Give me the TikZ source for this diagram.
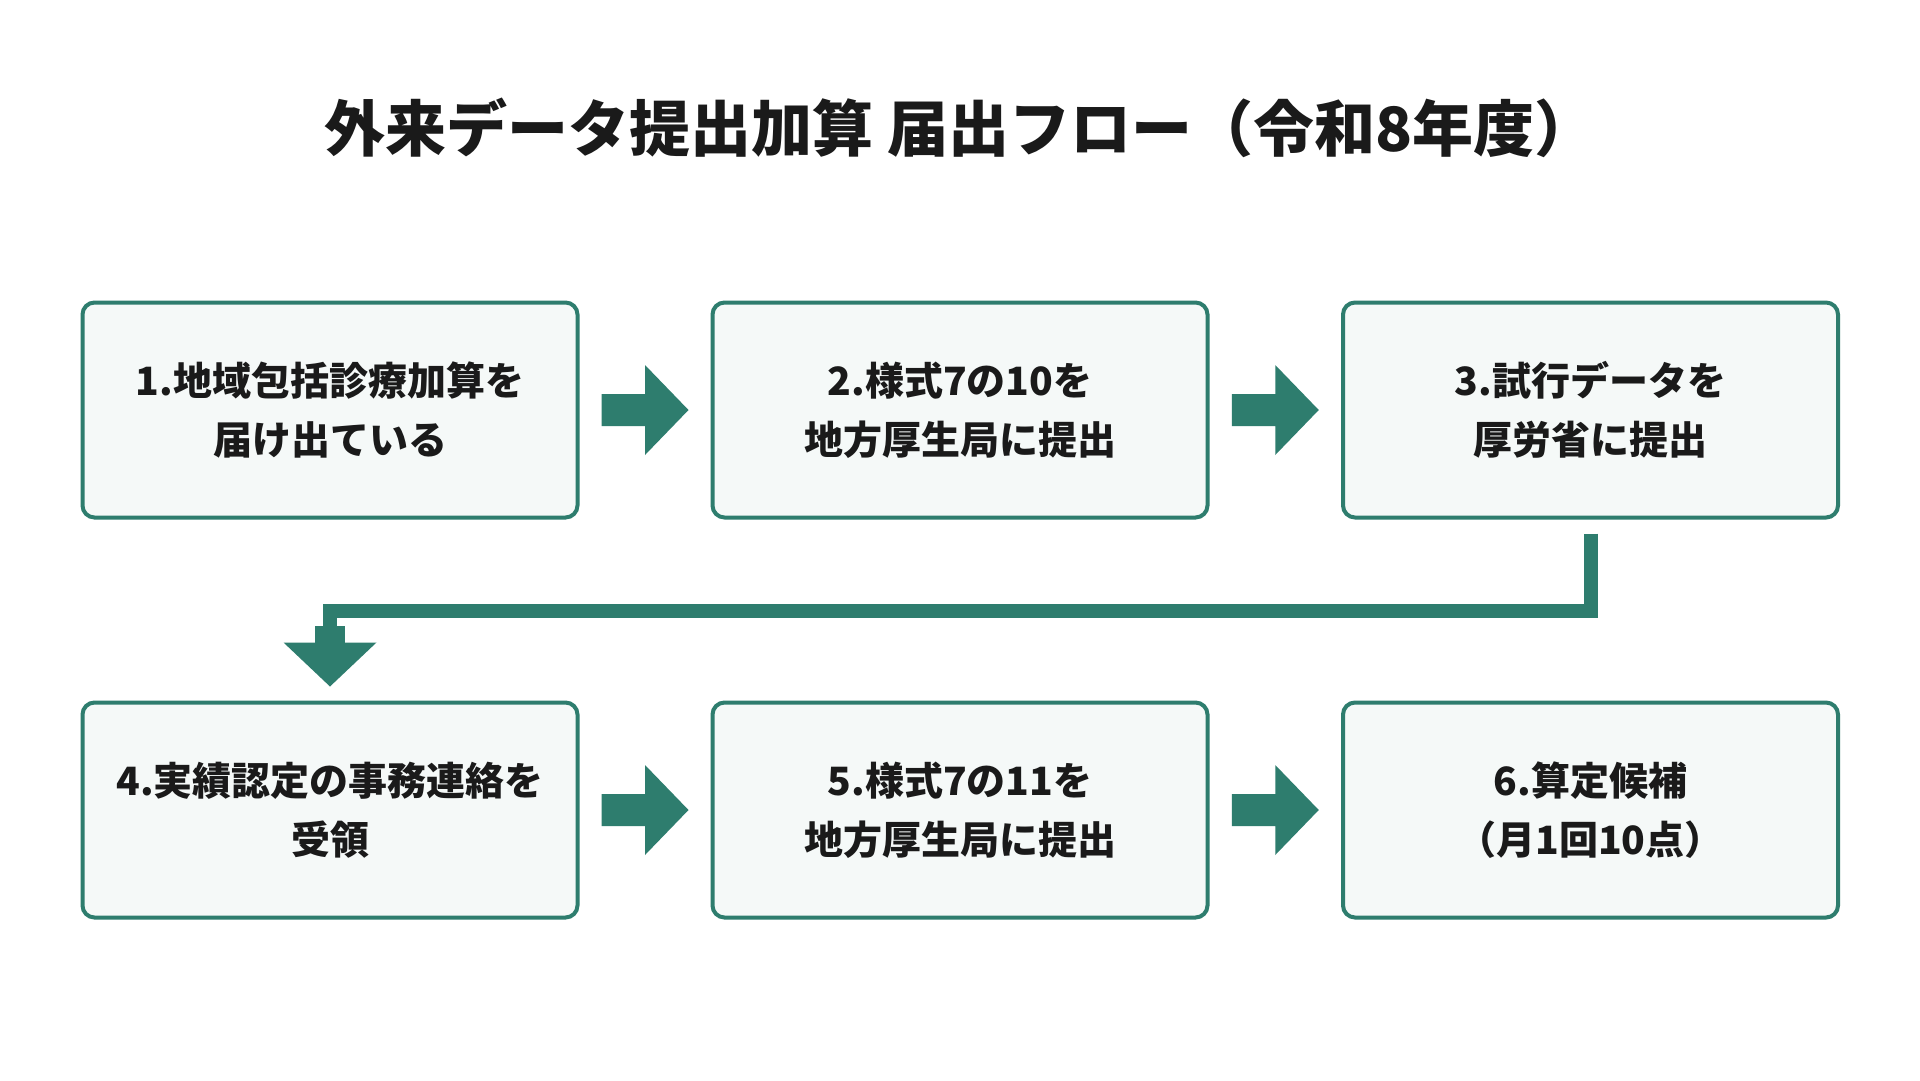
\documentclass[tikz,border=0pt]{standalone}
\usepackage{fontspec}
\setmainfont{Noto Sans CJK JP}
\usetikzlibrary{calc}
\definecolor{flowteal}{HTML}{2E7D6E}
\definecolor{boxfill}{HTML}{F5F9F8}
\definecolor{inktext}{HTML}{1A1A1A}
\tikzset{
  stepbox/.style={draw=flowteal, line width=4pt, fill=boxfill, rounded corners=12pt,
    minimum width=495pt, minimum height=215pt, align=center, text=inktext,
    font=\fontsize{39pt}{59pt}\selectfont\bfseries, inner sep=0pt},
  titletext/.style={text=inktext, font=\fontsize{61pt}{72pt}\selectfont\bfseries},
  arrowfill/.style={fill=flowteal, draw=none},
  connline/.style={draw=flowteal, line width=14pt, line join=miter}
}
\newcommand\flowarrow[2]{%
  \path ($(#1.east)!0.5!(#2.west)$) coordinate (am);
  \fill[arrowfill] ($(am)+(-43.5,-16)$) -- ($(am)+(0,-16)$) -- ($(am)+(0,-45)$)
    -- ($(am)+(43.5,0)$) -- ($(am)+(0,45)$) -- ($(am)+(0,16)$)
    -- ($(am)+(-43.5,16)$) -- cycle;}
\begin{document}
\begin{tikzpicture}[x=1pt,y=-1pt]
\useasboundingbox[fill=white] (0,0) rectangle (1920,1080);
\node[titletext] (title) at (960,128) {外来データ提出加算 届出フロー（令和8年度）};
\node[stepbox] (b1) at (330,410) {1.地域包括診療加算を\\届け出ている};
\node[stepbox] (b2) at (960,410) {2.様式7の10を\\地方厚生局に提出};
\node[stepbox] (b3) at (1590.5,410) {3.試行データを\\厚労省に提出};
\node[stepbox] (b4) at (330,810) {4.実績認定の事務連絡を\\受領};
\node[stepbox] (b5) at (960,810) {5.様式7の11を\\地方厚生局に提出};
\node[stepbox] (b6) at (1590.5,810) {6.算定候補\\（月1回10点）};
\flowarrow{b1}{b2}
\flowarrow{b2}{b3}
\flowarrow{b4}{b5}
\flowarrow{b5}{b6}
\coordinate (cstart) at ($(b3.south)+(0,14)$);
\coordinate (turnA) at ($(b3.south)+(0,91)$);
\coordinate (turnB) at (b4.north |- turnA);
\draw[connline] (cstart) -- (turnA) -- (turnB) -- ($(turnB)+(0,16)$);
\fill[arrowfill] ($(turnB)+(-15,15)$) rectangle ($(turnB)+(15,33)$);
\fill[arrowfill] ($(turnB)+(-46.5,32)$) -- ($(turnB)+(46.5,32)$) -- ($(b4.north)+(0,-14)$) -- cycle;
\end{tikzpicture}
\end{document}
